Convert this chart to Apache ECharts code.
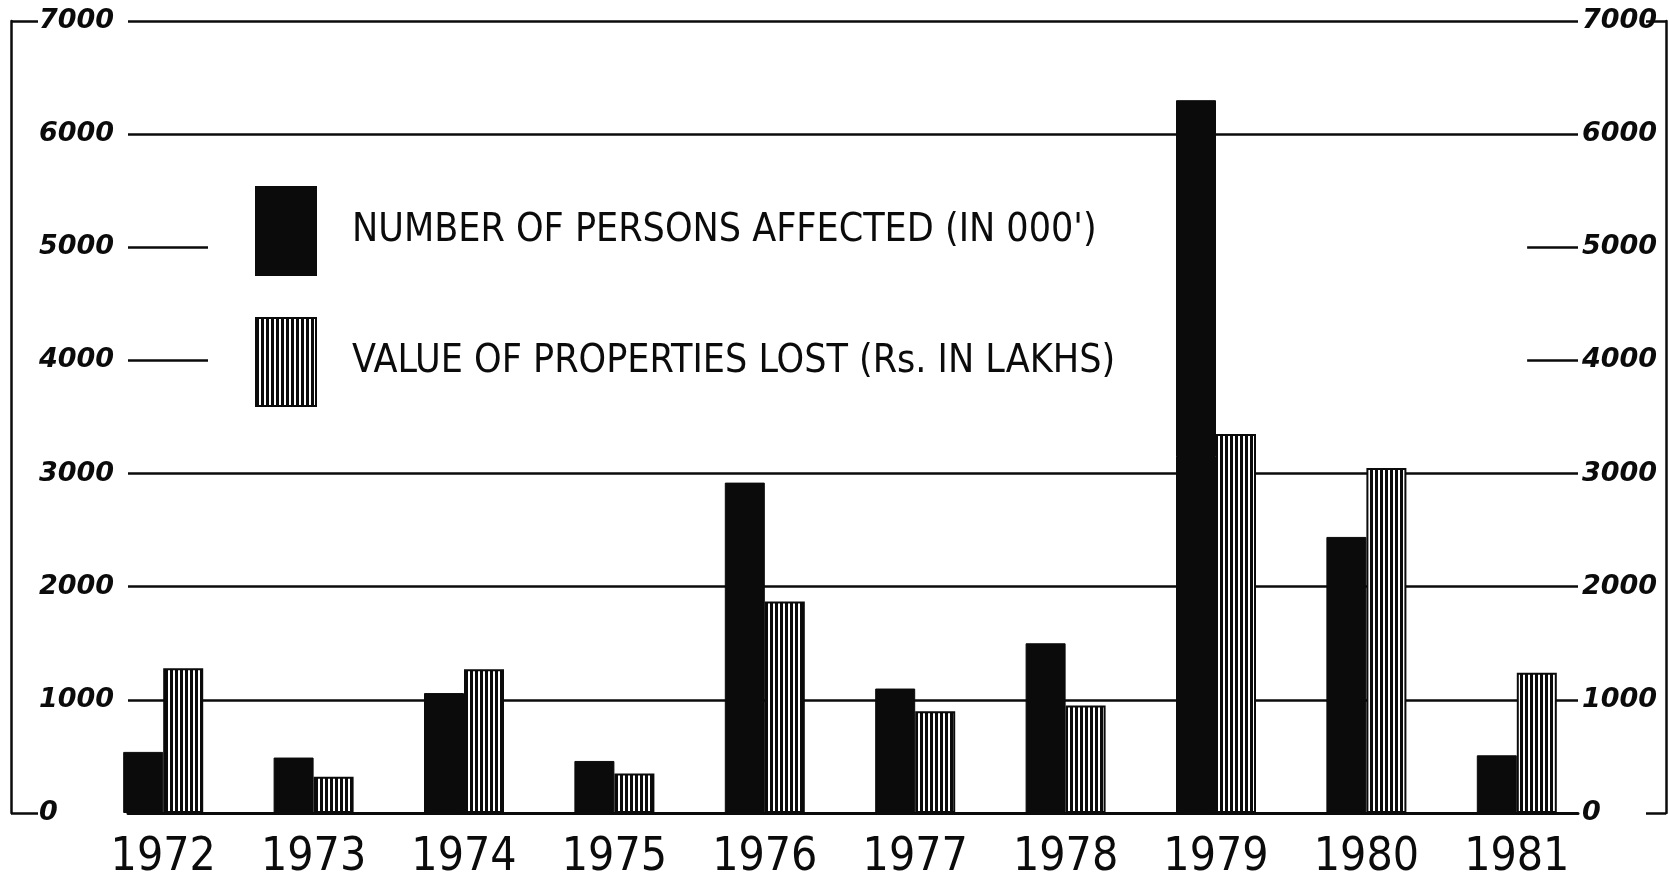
<!DOCTYPE html>
<html>
<head>
<meta charset="utf-8">
<script src="https://cdn.jsdelivr.net/npm/echarts@6/dist/echarts.min.js"></script>
<style>
html,body{margin:0;padding:0;background:#fff;}
#chart{width:1669px;height:878px;}
</style>
</head>
<body>
<div id="chart"></div>
<script>
const years = ['1972','1973','1974','1975','1976','1977','1978','1979','1980','1981'];
const personsAffected = [540, 490, 1060, 460, 2920, 1100, 1500, 6300, 2440, 510];
const propertiesLost = [1280, 320, 1270, 350, 1870, 900, 950, 3350, 3050, 1240];
const yMin = 0, yMax = 7000, yStep = 1000;
const seriesNames = ["NUMBER OF PERSONS AFFECTED (IN 000')", "VALUE OF PROPERTIES LOST (Rs. IN LAKHS)"];

const INK = '#0b0b0b';
const narrow = "'Liberation Sans Narrow','DejaVu Sans Condensed','Liberation Sans',sans-serif";

// vertical stripe pattern
const pc = document.createElement('canvas');
pc.width = 5; pc.height = 4;
const pctx = pc.getContext('2d');
pctx.fillStyle = '#ffffff'; pctx.fillRect(0,0,5,4);
pctx.fillStyle = INK; pctx.fillRect(0,0,3,4);

const plain = v => String(v);
const chart = echarts.init(document.getElementById('chart'), null, {renderer:'canvas'});
const valAxisBase = {min:yMin, max:yMax, interval:yStep, type:'value'};
const tickLabel = {fontSize:27, fontStyle:'italic', fontWeight:'bold', color:INK, fontFamily:'DejaVu Sans', formatter:plain};
chart.setOption({
  backgroundColor:'#ffffff',
  animation:false,
  grid:[
    {left:128, right:91, top:21, bottom:65, containLabel:false, outerBoundsMode:'none'},
    {left:88, right:77, top:21, bottom:65, containLabel:false, outerBoundsMode:'none'}
  ],
  legend:{
    orient:'vertical', left:208, top:166, z:3,
    itemWidth:60, itemHeight:88, itemGap:41,
    padding:[20,412,20,47],
    backgroundColor:'#ffffff',
    selectedMode:false,
    icon:'rect',
    data:seriesNames,
    textStyle:{fontSize:39, color:INK, fontFamily:narrow, padding:[0,0,0,31]}
  },
  xAxis:[
    {gridIndex:0, type:'category', data:years, axisLine:{show:true, lineStyle:{color:INK, width:3}},
     axisTick:{show:false}, axisLabel:{show:false}, splitLine:{show:false}},
    {gridIndex:1, type:'category', data:years, axisLine:{show:false}, axisTick:{show:false},
     axisLabel:{fontSize:46, color:INK, fontFamily:narrow, margin:22}, splitLine:{show:false}}
  ],
  yAxis:[
    Object.assign({gridIndex:0, position:'left', axisLine:{show:false}, axisTick:{show:false},
      axisLabel:Object.assign({align:'left', margin:89}, tickLabel),
      splitLine:{show:true, lineStyle:{color:INK, width:2.5}}}, valAxisBase),
    Object.assign({gridIndex:0, position:'right', axisLine:{show:false}, axisTick:{show:false},
      axisLabel:Object.assign({align:'left', margin:4}, tickLabel),
      splitLine:{show:false}}, valAxisBase),
    {gridIndex:0, type:'value', position:'left', offset:117, min:yMin, max:yMax, interval:yMax,
      axisLine:{show:true, lineStyle:{color:INK, width:2.5}},
      axisTick:{show:true, inside:true, length:27, lineStyle:{color:INK, width:2.5}},
      axisLabel:{show:false}, splitLine:{show:false}},
    {gridIndex:0, type:'value', position:'right', offset:88, min:yMin, max:yMax, interval:yMax,
      axisLine:{show:true, lineStyle:{color:INK, width:2.5}},
      axisTick:{show:true, inside:true, length:20, lineStyle:{color:INK, width:2.5}},
      axisLabel:{show:false}, splitLine:{show:false}},
    Object.assign({gridIndex:1, show:false, splitLine:{show:false}}, valAxisBase)
  ],
  series:[
    {name:seriesNames[0], type:'bar', xAxisIndex:1, yAxisIndex:4, data:personsAffected, z:6,
     barWidth:40, barGap:'0%', itemStyle:{color:INK, borderColor:INK, borderWidth:1}, silent:true},
    {name:seriesNames[1], type:'bar', xAxisIndex:1, yAxisIndex:4, data:propertiesLost, z:6,
     barWidth:40, barGap:'0%', itemStyle:{color:{image:pc, repeat:'repeat'}, borderColor:INK, borderWidth:2}, silent:true}
  ]
});
</script>
</body>
</html>
